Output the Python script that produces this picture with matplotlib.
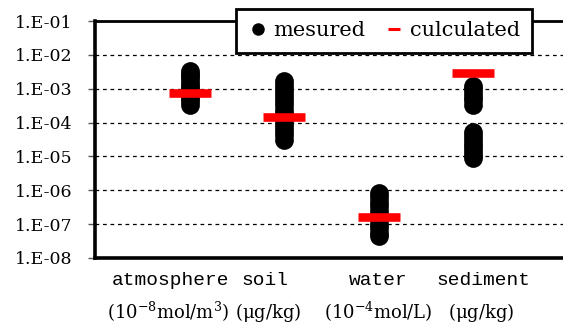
import numpy as np
import matplotlib
matplotlib.use("Agg")
import matplotlib.pyplot as plt
from matplotlib.lines import Line2D
from matplotlib.ticker import FixedLocator, FuncFormatter, NullLocator

# ---- data ----
categories = ["atmosphere", "soil", "water", "sediment"]
units = [r"(10$^{-8}$mol/m$^{3}$)", r"($\mathrm{\mu}$g/kg)", r"(10$^{-4}$mol/L)", r"($\mathrm{\mu}$g/kg)"]
measured_atmosphere = [3.4e-3, 2.8e-3, 2.3e-3, 1.9e-3, 1.5e-3, 1.2e-3, 1.0e-3,
                       8e-4, 6.5e-4, 5.2e-4, 4.2e-4, 3.4e-4]
measured_soil = [1.7e-3, 1.3e-3, 1.0e-3, 7.5e-4, 5.6e-4, 4.2e-4, 3.2e-4, 2.4e-4,
                 1.8e-4, 1.35e-4, 1.0e-4, 7.5e-5, 5.6e-5, 4.2e-5, 3e-5]
measured_water = [8.2e-7, 6.2e-7, 4.6e-7, 3.4e-7, 2.5e-7, 1.9e-7, 1.4e-7,
                  1.0e-7, 7.5e-8, 5.6e-8, 4.4e-8]
measured_sediment = [1.2e-3, 9.5e-4, 7.5e-4, 5.8e-4, 4.5e-4, 3.4e-4,
                     5.1e-5, 4.0e-5, 3.1e-5, 2.4e-5, 1.85e-5, 1.4e-5, 1.1e-5, 8.7e-6]
calculated = [7.6e-4, 1.43e-4, 1.6e-7, 3.0e-3]
ytick_values = [1e-8, 1e-7, 1e-6, 1e-5, 1e-4, 1e-3, 1e-2, 1e-1]

measured = [measured_atmosphere, measured_soil, measured_water, measured_sediment]
positions = np.arange(1, len(categories) + 1)
name_x = [0.80, 1.80, 2.99, 4.11]
unit_x = [0.77, 1.83, 2.99, 4.08]

plt.rcParams["mathtext.fontset"] = "dejavuserif"

fig = plt.figure(figsize=(5.63, 3.24), dpi=100)
ax = fig.add_axes([95 / 563, 66 / 324, 473 / 563, 237 / 324])

for p, vals in zip(positions, measured):
    ax.plot([p] * len(vals), vals, ls="none", marker="o", ms=13.5,
            mfc="black", mec="black", mew=0, zorder=3)
ax.plot(positions, calculated, ls="none", marker="_", ms=30, mew=6.2,
        color="#ff0000", zorder=4)

ax.set_yscale("log")
ax.set_ylim(1e-8, 1e-1)
ax.set_xlim(0, 5)
ax.yaxis.set_major_locator(FixedLocator(ytick_values))
ax.yaxis.set_minor_locator(NullLocator())
ax.yaxis.set_major_formatter(FuncFormatter(lambda v, _: "1.E%03d" % int(round(np.log10(v)))))
ax.set_xticks([])
ax.tick_params(axis="y", direction="out", length=5, width=1, color="#555555",
               pad=11, labelsize=12.5)
for lab in ax.get_yticklabels():
    lab.set_family("DejaVu Serif")

ax.yaxis.grid(True, color="black", lw=0.9, ls=(0, (3, 3)), zorder=1)
ax.set_axisbelow(True)

ax.spines["left"].set_linewidth(2.6)
ax.spines["bottom"].set_linewidth(2.6)
ax.spines["top"].set_linewidth(2.0)
ax.spines["right"].set_visible(False)

tr = ax.get_xaxis_transform()
for x, name in zip(name_x, categories):
    ax.text(x, -0.097, name, transform=tr, ha="center", va="center",
            family="Liberation Mono", fontsize=14)
for x, u in zip(unit_x, units):
    ax.text(x, -0.228, u, transform=tr, ha="center", va="center",
            family="DejaVu Serif", fontsize=13)

handles = [
    Line2D([], [], ls="none", marker="o", ms=9, mfc="black", mec="black", mew=0),
    Line2D([], [], ls="none", marker="_", ms=9, mew=2.2, color="#ff0000"),
]
leg = fig.legend(handles, ["mesured", "culculated"], loc="center",
                 bbox_to_anchor=(384 / 563, 1 - 31 / 324), ncol=2,
                 prop={"family": "DejaVu Serif", "size": 15},
                 frameon=True, fancybox=False, framealpha=1, edgecolor="black",
                 handlelength=0.9, handletextpad=0.3, columnspacing=0.94,
                 borderpad=0.58, borderaxespad=0)
leg.get_frame().set_linewidth(2)
leg.set_zorder(10)

fig.savefig("out.png", dpi=100)
